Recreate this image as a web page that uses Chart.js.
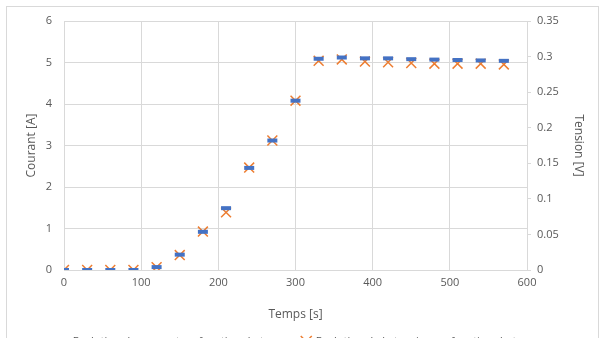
<!DOCTYPE html>
<html>
<head>
<meta charset="utf-8">
<script src="https://cdn.jsdelivr.net/npm/chart.js@4.4.1/dist/chart.umd.min.js"></script>
<style>
  html, body { margin: 0; padding: 0; background: #fff; overflow: hidden; }
  .frame { position: absolute; left: 6px; top: 6px; width: 591px; height: 360px; border: 1px solid #d9d9d9; }
  canvas { position: absolute; left: 0; top: 0; }
</style>
</head>
<body>
<div class="frame"></div>
<canvas id="chart" width="604" height="357"></canvas>
<script>
// temps en secondes
const temps = [0, 30, 60, 90, 120, 150, 180, 210, 240, 270, 300, 330, 360, 390, 420, 450, 480, 510, 540, 570];
// courant [A]
const courant = [0, 0, 0, 0, 0.07, 0.37, 0.92, 1.49, 2.46, 3.12, 4.08, 5.09, 5.12, 5.10, 5.10, 5.08, 5.07, 5.06, 5.05, 5.04];
// tension [V]
const tension = [0, 0, 0, 0, 0.004, 0.021, 0.054, 0.081, 0.144, 0.182, 0.238, 0.294, 0.296, 0.293, 0.292, 0.291, 0.290, 0.290, 0.290, 0.289];

const textColor = '#595959';
const gridColor = '#d9d9d9';
const font = { family: 'Open Sans', size: 11 };
const titleFont = { family: 'Open Sans', size: 12 };

const toPoints = (xs, ys) => xs.map((x, i) => ({ x: x, y: ys[i] }));

const data = {
    datasets: [{
        label: 'Evolution du courant en fonction du temps',
        data: toPoints(temps, courant),
        yAxisID: 'y',
        pointStyle: 'line',
        pointRadius: 5,
        borderWidth: 4,
        borderColor: '#4472c4',
        backgroundColor: '#4472c4',
        showLine: false
    }, {
        label: 'Evolution de la tension en fonction du temps',
        data: toPoints(temps, tension),
        yAxisID: 'y1',
        pointStyle: 'crossRot',
        pointRadius: 7,
        borderWidth: 1.5,
        borderColor: '#ed7d31',
        backgroundColor: '#ed7d31',
        showLine: false
    }]
};

const config = {
    type: 'scatter',
    data,
    options: {
        responsive: false,
        animation: false,
        layout: { padding: { left: 10, right: 10, top: 21, bottom: 0 } },
        plugins: {
            tooltip: { enabled: false },
            legend: {
                position: 'bottom',
                labels: { color: textColor, font, usePointStyle: true, boxWidth: 8, padding: 10 }
            }
        },
        scales: {
            x: {
                type: 'linear',
                min: 0, max: 600,
                ticks: { stepSize: 100, color: textColor, font, padding: 6 },
                grid: { color: gridColor, drawTicks: false },
                border: { color: gridColor },
                title: { display: true, text: 'Temps [s]', color: textColor, font: titleFont },
                afterFit: s => { s.height = 56; }
            },
            y: {
                position: 'left',
                min: 0, max: 6,
                ticks: { stepSize: 1, color: textColor, font, padding: 12 },
                grid: { color: gridColor, drawTicks: false },
                border: { color: gridColor },
                title: { display: true, text: 'Courant [A]', color: textColor, font: titleFont,
                         padding: { top: 14, bottom: 4 } },
                afterFit: s => { s.width = 54; }
            },
            y1: {
                position: 'right',
                min: 0, max: 0.35,
                ticks: { stepSize: 0.05, color: textColor, font, padding: 6,
                         callback: v => Math.round(v * 100) / 100 },
                grid: { drawOnChartArea: false, color: gridColor, tickLength: 4 },
                border: { color: gridColor },
                title: { display: true, text: 'Tension [V]', color: textColor, font: titleFont,
                         padding: { top: 8, bottom: 4 } },
                afterFit: s => { s.width = 67; }
            }
        }
    }
};

new Chart(document.getElementById('chart'), config);
</script>
</body>
</html>
